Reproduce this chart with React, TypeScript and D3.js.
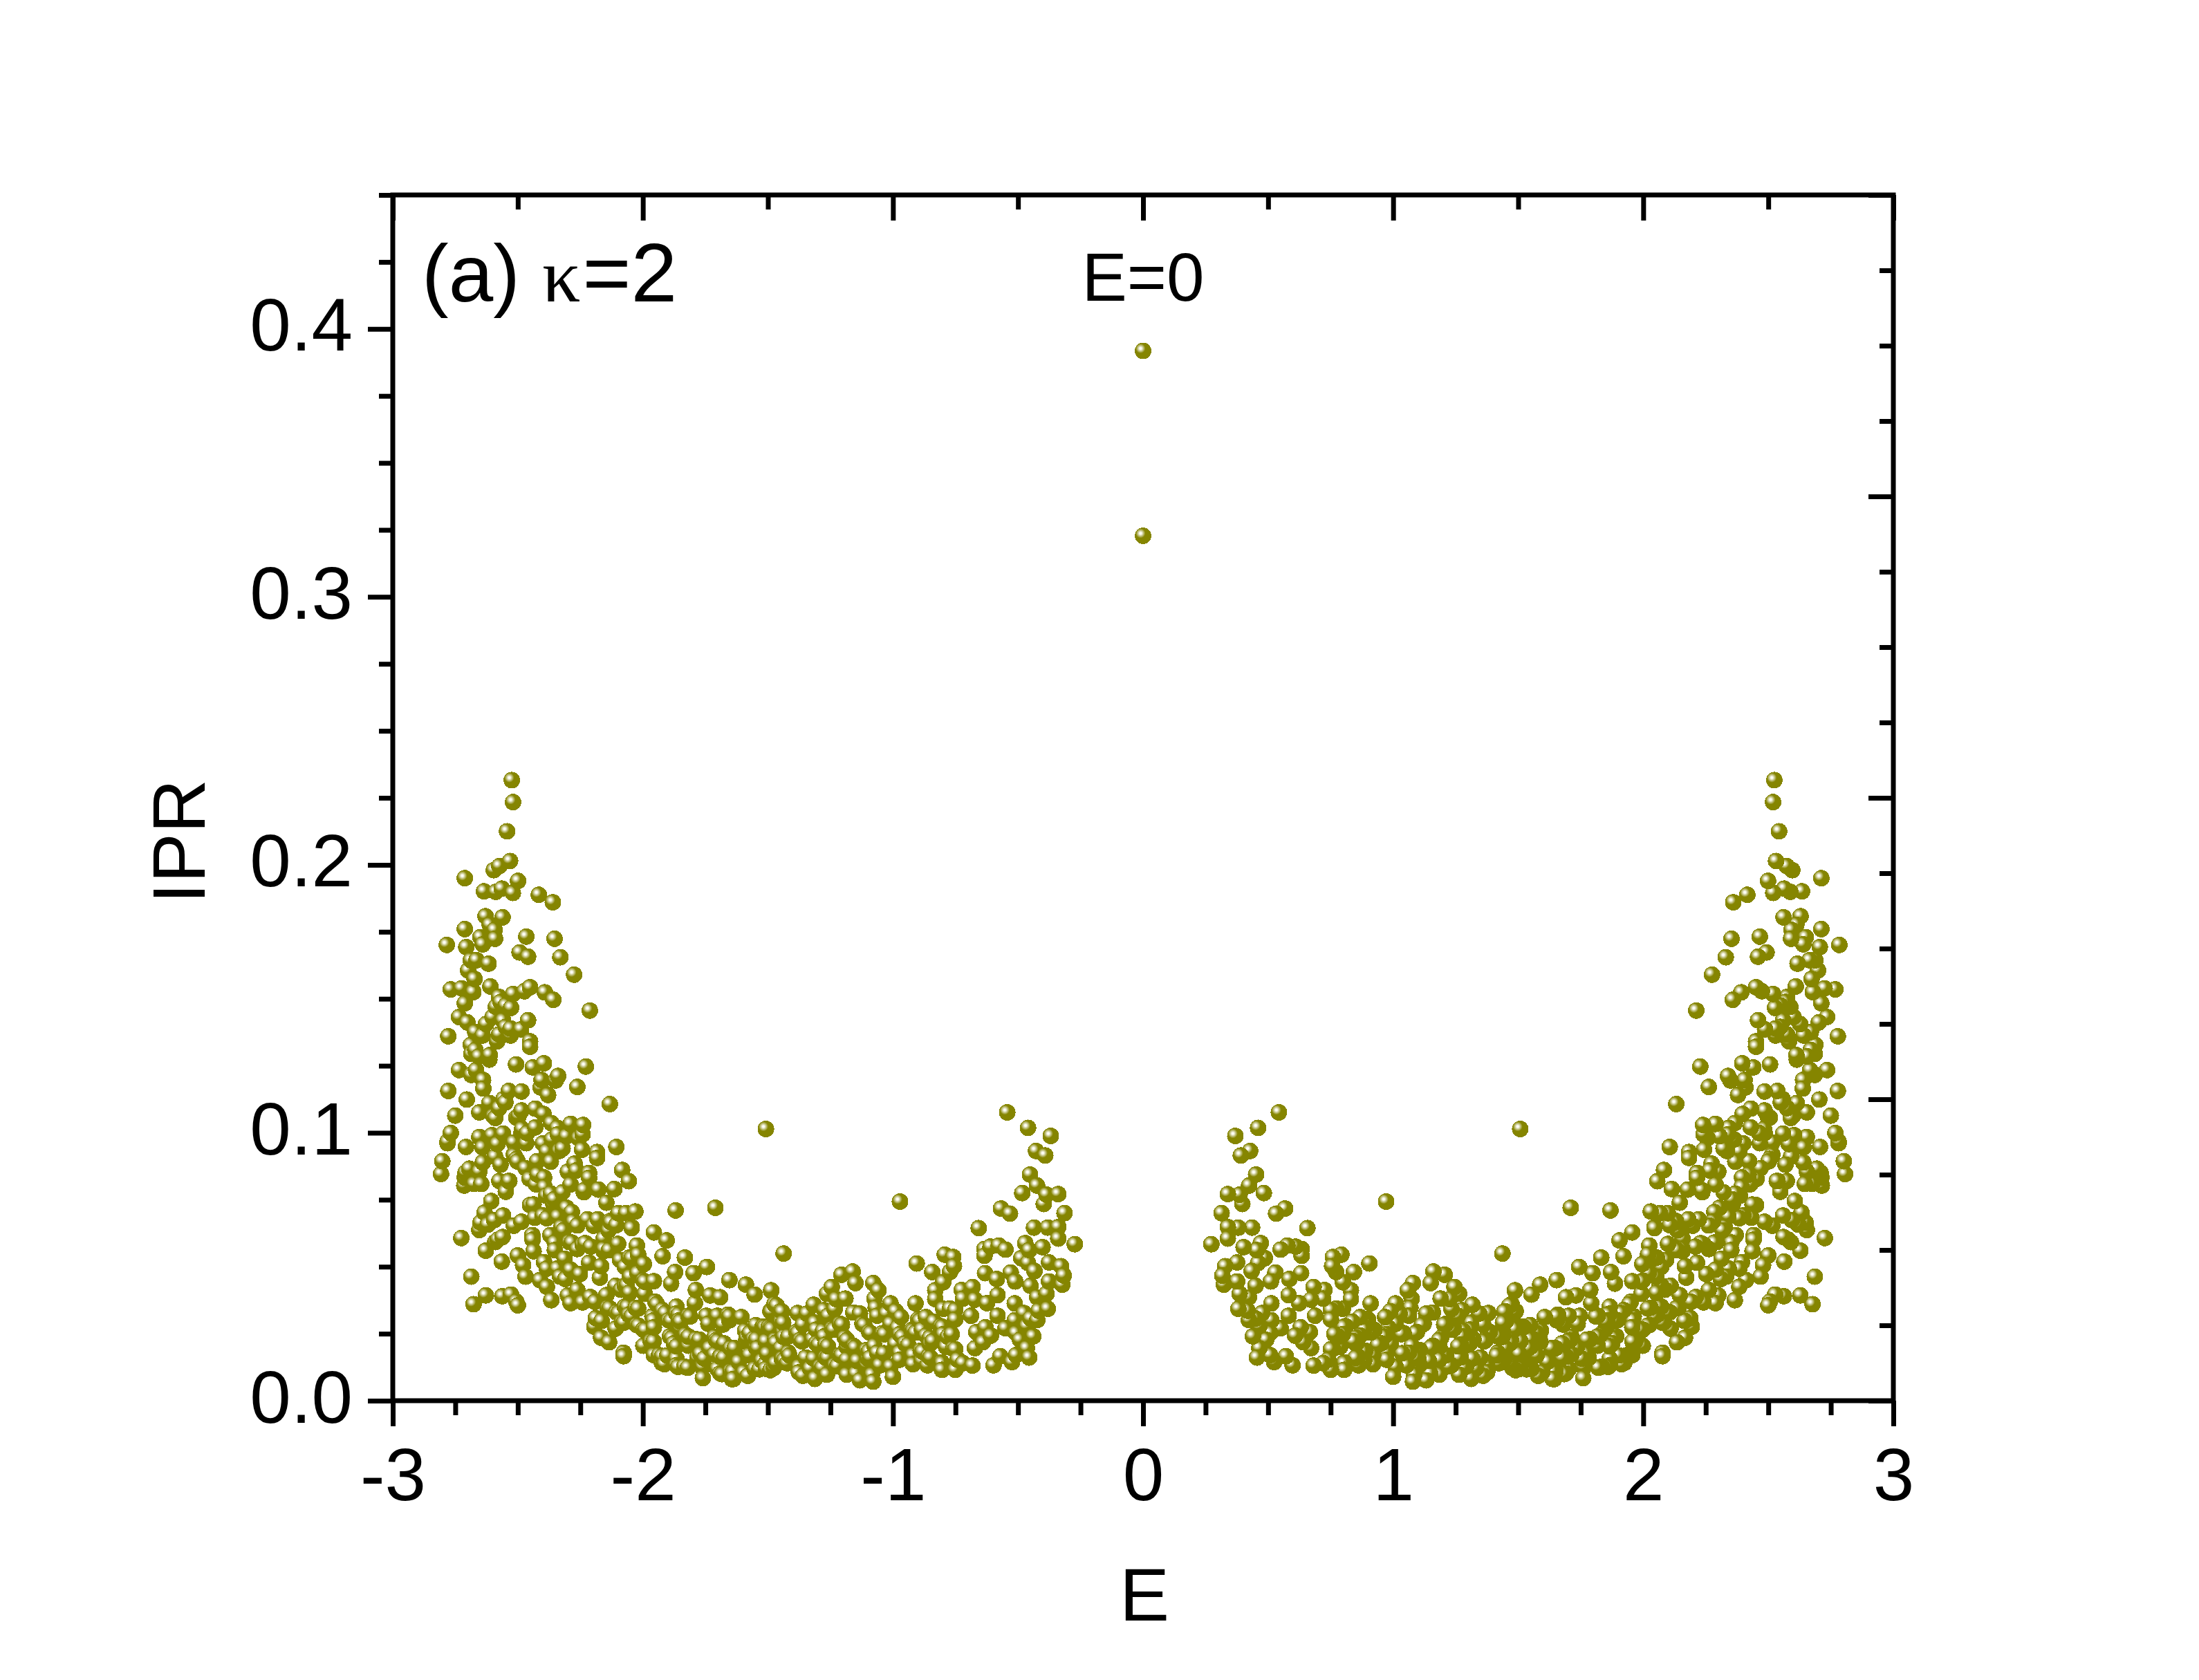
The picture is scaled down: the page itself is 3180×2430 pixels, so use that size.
import React, { useEffect, useRef } from "react";
import * as d3 from "d3";

// Chart size and plot frame, measured on the reference
const WIDTH = 3180;
const HEIGHT = 2430;
const margin = { top: 282, right: 442, bottom: 404, left: 568 };
const FONT = '"Liberation Sans", Arial, sans-serif';
const OLIVE = "#858500";

const xMajorTicks = [-3, -2, -1, 0, 1, 2, 3];
const xMinorTicks = [
  -2.75, -2.5, -2.25, -1.75, -1.5, -1.25, -0.75, -0.5, -0.25, 0.25, 0.5, 0.75,
  1.25, 1.5, 1.75, 2.25, 2.5, 2.75,
];
const topMinorTicks = [-2.5, -1.5, -0.5, 0.5, 1.5, 2.5];
const yMajorTicks = [0, 0.1, 0.2, 0.3, 0.4];
const yMinorTicks = [
  0.025, 0.05, 0.075, 0.125, 0.15, 0.175, 0.225, 0.25, 0.275, 0.325, 0.35,
  0.375, 0.425, 0.45,
];
// the right axis of the reference has its own unlabelled scale
const rightMajorTicks = [0, 1, 2, 3, 4];
const rightMinorTicks = [0.25, 0.5, 0.75, 1.25, 1.5, 1.75, 2.25, 2.5, 2.75, 3.25, 3.5, 3.75];

// [E, IPR]
const midGapStates: [number, number][] = [[0, 0.3918], [0, 0.3228]];

const leftBranch: [number, number][] = [
  [-2.524,.2316],[-2.519,.2234],[-2.543,.2125],[-2.531,.2014],[-2.574,.1995],[-2.596,.198],[-2.712,.195],[-2.499,.194],[-2.564,.1911],[-2.588,.1899],
  [-2.635,.1901],[-2.52,.1895],[-2.416,.1888],[-2.36,.186],[-2.629,.1808],[-2.561,.1804],[-2.612,.1776],[-2.593,.1757],[-2.712,.176],[-2.466,.1732],
  [-2.65,.173],[-2.591,.1724],[-2.353,.1724],[-2.784,.1701],[-2.64,.1703],[-2.706,.1693],[-2.493,.1673],[-2.459,.1657],[-2.33,.1655],[-2.688,.1644],
  [-2.665,.1644],[-2.617,.1631],[-2.699,.1606],[-2.275,.159],[-2.673,.1574],[-2.61,.1546],[-2.768,.1535],[-2.725,.1539],[-2.678,.1525],[-2.451,.1543],
  [-2.474,.1528],[-2.519,.1518],[-2.392,.1524],[-2.575,.1507],[-2.358,.1496],[-2.569,.1488],[-2.712,.1483],[-2.548,.1475],[-2.527,.1466],[-2.588,.147],
  [-2.212,.1456],[-2.735,.1432],[-2.601,.1432],[-2.459,.142],[-2.702,.1412],[-2.559,.1419],[-2.627,.1406],[-2.548,.1395],[-2.487,.1386],[-2.529,.1363],
  [-2.529,.1389],[-2.67,.1376],[-2.641,.1363],[-2.778,.136],[-2.575,.1367],[-2.583,.1341],[-2.451,.1341],[-2.451,.1321],[-2.688,.1328],[-2.686,.1294],
  [-2.67,.1309],[-2.656,.1285],[-2.612,.129],[-2.614,.1273],[-2.507,.1255],[-2.396,.1259],[-2.44,.1244],[-2.228,.1247],[-2.735,.1234],[-2.667,.1234],
  [-2.686,.1217],[-2.405,.1197],[-2.339,.1212],[-2.349,.1195],[-2.639,.1197],[-2.262,.1171],
  [-2.778,.1156],[-2.536,.1156],[-2.485,.1154],[-2.638,.1165],[-2.704,.1124],[-2.379,.1141],[-2.409,.1169],[-2.132,.1107],[-2.614,.1111],[-2.55,.1113],
  [-2.654,.1076],[-2.75,.1064],[-2.59,.1055],[-2.575,.1092],[-2.485,.1083],[-2.43,.109],[-2.397,.107],[-2.506,.1057],[-2.289,.1033],[-2.366,.1036],
  [-2.239,.1029],[-1.508,.1014],[-2.43,.102],[-2.342,.1018],[-2.768,.0999],[-2.654,.0984],[-2.603,.0991],[-2.559,.0997],[-2.241,.0994],[-2.34,.0994],
  [-2.305,.0987],[-2.485,.0999],[-2.463,.0999],[-2.516,.0964],[-2.466,.0961],[-2.781,.0961],[-2.707,.0947],[-2.641,.0945],[-2.582,.0958],[-2.4,.096],
  [-2.106,.0947],[-2.321,.0941],[-2.243,.0937],[-2.384,.093],[-2.183,.0928],[-2.183,.0906],[-2.802,.0894],[-2.591,.0911],[-2.516,.0919],[-2.506,.0902],
  [-2.423,.0894],[-2.368,.0892],[-2.273,.0885],[-2.64,.0889],[-2.569,.0881],[-2.694,.0866],[-2.469,.0868],[-2.654,.0855],[-2.083,.0861],[-2.266,.0859],
  [-2.3,.0855],[-2.215,.085],[-2.807,.0846],[-2.421,.0844],[-2.712,.0833],[-2.215,.0832],[-2.056,.0819],[-2.453,.0828],[-2.395,.0833],[-2.574,.082],
  [-2.537,.082],[-2.675,.0809],[-2.646,.0809],[-2.289,.0807],[-2.393,.0797],[-2.178,.0788],[-2.236,.0778],[-2.114,.079],[-2.548,.078],[-2.368,.0773],
  [-2.321,.0778],[-2.606,.0745],[-2.146,.0739],[-2.437,.0732],[-2.358,.0734],[-1.869,.071],[-1.71,.072],[-2.633,.0702],[-2.305,.072],[-2.03,.0706],
  [-2.284,.0704],[-2.098,.07],[-2.067,.07],[-2.559,.0691],[-2.4,.0691],[-2.34,.0687],[-2.432,.0683],[-2.384,.0681],[-2.222,.0677],[-2.18,.0677],
  [-2.485,.0668],[-2.278,.0668],[-2.516,.0653],[-2.262,.0654],[-2.13,.0671],[-2.106,.0655],[-2.045,.0648],[-2.326,.0648],[-2.654,.0637],[-2.62,.0657],
  [-1.956,.0628],[-1.905,.0598],[-2.442,.0618],[-2.157,.0605],[-2.37,.0618],[-2.561,.0611],[-2.726,.0607],[-2.352,.059],[-2.59,.0592],[-2.099,.0585],
  [-2.284,.059],[-2.241,.0583],[-2.208,.0575],[-2.262,.0566],[-2.024,.0579],[-2.135,.0562],[-2.352,.0562],[-2.437,.0558],[-2.628,.056],[-2.019,.0545],
  [-2.157,.0558],[-2.313,.053],[-2.5,.0542],[-2.091,.0525],[-1.921,.0539],[-1.832,.0534],[-2.564,.0519],[-2.215,.0515],[-2.479,.0506],[-2.395,.0517],
  [-2.167,.0502],[-2.072,.0499],[-1.996,.051],[-1.744,.0499],[-1.797,.0476],[-2.342,.0493],[-2.384,.0493],[-2.289,.0489],[-1.871,.048],[-2.686,.0463],
  [-2.469,.0463],[-2.252,.0472],[-2.021,.0476],[-2.172,.0459],[-2.331,.0463],[-2.31,.0454],[-2.411,.045],[-2.051,.0463],[-1.998,.0448],[-1.956,.0446],
  [-1.654,.045],[-1.588,.0433],[-2.109,.0429],[-2.384,.0425],[-1.887,.0437],[-2.262,.0413],[-2.072,.0429],[-1.788,.0413],[-2.146,.0394],[-2.628,.0393],
  [-2.562,.039],[-2.527,.0396],[-1.487,.041],[-1.553,.0396],[-1.731,.0393],[-1.691,.0386],[-2.3,.0393],[-1.993,.0399],[-2.053,.0403],[-2.21,.0387],
  [-2.366,.0375],[-1.95,.0369],[-2.506,.037],[-2.289,.0364],[-2.241,.0367],[-2.191,.0369],[-1.792,.0364],[-2.677,.036],[-1.474,.036],[-2.5,.0356],
  [-2.141,.0347],[-2.072,.0351],[-2.019,.0344],[-1.922,.0338],[-1.866,.0351],[-1.49,.0334],[-2.106,.033],[-1.866,.0325],[-2.056,.0321],[-2.188,.0308],
  [-1.818,.0317],[-1.746,.0317],[-1.702,.0317],[-1.659,.0321],[-1.606,.0312],[-1.448,.0334],[-1.958,.03],[-1.897,.03],[-1.855,.03],[-2.083,.0293],
  [-2.194,.0276],[-1.68,.0284],[-1.654,.03],[-1.448,.0295],[-2.024,.0282],[-1.956,.0274],[-1.548,.0282],[-1.522,.0275],[-1.49,.027],[-2.109,.0269],
  [-1.998,.0265],[-1.85,.027],[-1.591,.0261],[-1.738,.0287],[-1.829,.0246],[-1.439,.0252],[-1.585,.0235],[-2.167,.0235],[-1.892,.024],[-1.788,.023],
  [-1.558,.0231],[-1.707,.0226],[-1.876,.0214],[-2.135,.0218],[-1.968,.0222],[-1.649,.0196],[-1.548,.02],[-1.675,.0214],[-1.998,.0205],[-1.733,.0196],
  [-1.818,.0205],[-1.448,.0196],[-2.077,.0179],[-1.935,.017],[-1.956,.017],[-1.691,.0166],[-1.77,.0175],[-1.574,.017],[-2.077,.0166],[-1.866,.0157],
  [-1.754,.0157],[-1.617,.0145],[-1.442,.0157],[-1.924,.0141],[-1.511,.0136],[-1.834,.0127],[-1.866,.0132],[-1.469,.014],[-1.76,.0127],[-1.691,.0102],
  [-1.649,.011],[-1.76,.0084],[-1.643,.008],[-1.58,.0093],[-1.702,.0119],[-1.553,.0119],[-1.49,.0114],[-1.596,.0106],
  [-.543,.1076],[-.46,.1018],[-.369,.0988],[-.428,.0932],[-.391,.0915],[-.452,.0844],[-.424,.0803],[-.483,.0775],[-.339,.0771],[-.386,.0769],
  [-.397,.0734],[-.972,.0743],[-.568,.0717],[-.532,.0698],[-.314,.07],[-.657,.0644],[-.436,.0646],[-.381,.0646],[-.339,.0648],[-.339,.0605],
  [-.273,.0584],[-1.437,.0549],[-.471,.0588],[-.402,.0573],[-.634,.0566],[-.61,.0575],[-.577,.0579],[-.55,.0564],[-.634,.0541],[-.487,.0532],
  [-.455,.0562],[-.793,.0545],[-.759,.0536],[-.905,.0512],[-.756,.0502],[-.434,.0484],[-.376,.0516],[-.328,.0502],[-.46,.0514],[-.843,.048],
  [-.772,.048],[-1.161,.0482],[-1.206,.047],[-.317,.0467],[-.632,.0476],[-.529,.0478],[-.585,.0454],[-1.15,.0439],[-1.079,.0439],[-.323,.0433],
  [-.799,.0442],[-.511,.0445],[-.376,.0445],[-.45,.0429],[-1.487,.0412],[-1.245,.0424],[-1.058,.0412],[-.682,.0424],[-.725,.0413],[-.831,.0412],
  [-1.264,.0399],[-1.19,.0381],[-.386,.0399],[-.423,.0386],[-.582,.0394],[-.831,.0379],[-1.074,.0381],[-.72,.0381],[-.91,.0363],[-1.01,.0363],
  [-1.317,.0358],[-1.465,.0355],[-.672,.0377],[-.513,.0363],[-.381,.0343],[-1.227,.0379],[-.772,.0344],[-1.275,.0338],[-1.233,.0342],[-.799,.0343],
  [-1.487,.0332],[-1.444,.0332],[-1.381,.0327],[-1.344,.0325],[-1.069,.0347],[-.989,.0334],[-.624,.0364],[-.418,.0336],[-.476,.0327],[-1.159,.0329],
  [-.751,.0338],[-1.132,.0325],[-1.026,.0325],[-1.063,.0317],[-.968,.0312],[-.899,.0304],[-.868,.0312],[-.688,.0317],[-.582,.0317],[-1.259,.0317],
  [-.836,.0295],[-1.45,.0295],[-.513,.03],[-.423,.0301],[-.45,.0307],[-1.312,.0291],[-1.212,.0287],[-1.122,.0287],[-.465,.0278],[-1.01,.0287],
  [-.751,.0303],[-.809,.0278],[-1.36,.0284],[-.63,.0274],[-.55,.027],[-.439,.024],[-1.518,.0277],[-1.497,.0274],[-1.386,.0257],[-1.307,.0265],
  [-1.243,.0269],[-.92,.0261],[-.884,.0265],[-.667,.0256],[-1.28,.026],[-1.095,.0256],[-1.042,.0252],[-1.439,.0256],[-.799,.0248],[-.765,.0248],
  [-.973,.0248],[-.608,.0243],[-.868,.0243],[-.508,.0252],[-1.275,.024],[-1.418,.024],[-1.192,.0235],[-1.37,.0227],[-.64,.0218],[-.852,.0235],
  [-1.508,.0222],[-1.471,.0227],[-.492,.0227],[-.952,.0214],[-1.27,.0209],[-1.307,.0214],[-1.159,.0205],[-1.074,.0205],[-.672,.0196],[-1.185,.0201],
  [-1.106,.0189],[-.788,.0201],[-.751,.0192],[-.465,.0196],[-.889,.0187],[-.841,.0222],[-1.418,.0179],[-1.503,.0175],[-.973,.0179],[-1.212,.017],
  [-1.349,.0161],[-1.27,.0161],[-.857,.0166],[-1.063,.0179],[-.92,.017],[-1.444,.0155],[-.508,.017],[-.571,.0166],[-1.1,.0157],[-1.185,.0153],
  [-.741,.0153],[-.973,.0153],[-.455,.0161],[-1.143,.0149],[-1.317,.0157],[-.884,.0149],[-.524,.0144],[-.72,.014],[-1.233,.0132],[-1.423,.014],
  [-.804,.014],[-.598,.0132],[-.682,.0131],[-1.291,.0127],[-1.376,.0127],[-1.508,.0119],[-1.476,.0123],[-.804,.0115],[-.751,.0115],[-1.264,.0097],
  [-1.185,.0097],[-1.36,.0093],[-1.312,.0081],[-1.132,.0076],[-1.079,.0071],[-1,.0089],[-1.376,.0106],[-1.148,.0101],[-1.084,.0097],[-1.053,.0132],
  [-1.01,.0127],[-.862,.0132],[-.92,.0136],
];

// Half-hidden discs in the crowded parts of the left branch
const leftCrowded: [number, number][] = [
  [-2.054,.0534],[-2.064,.0431],[-2.087,.0414],[-1.962,.0315],[-2.165,.0298],[-2.045,.0315],[-1.99,.0264],[-1.884,.0233],[-1.865,.0203],[-1.902,.0169],
  [-1.782,.016],[-1.713,.0173],[-1.69,.0164],[-1.764,.0126],[-1.713,.0238],[-1.653,.0315],[-1.589,.022],[-1.534,.0117],[-1.524,.0149],[-1.469,.0216],
  [-1.437,.0238],[-1.414,.0169],[-1.377,.012],[-1.331,.012],[-1.321,.0229],[-1.206,.0169],[-1.156,.0203],[-1.105,.0134],[-1.091,.016],[-1.036,.0177],
  [-.99,.0212],[-.939,.0208],[-.981,.0272],[-.925,.0264],[-.893,.0298],[-.805,.0143],[-.852,.0212],[-.759,.0194],
  [-2.133,.0345],[-2.097,.0327],[-2.062,.035],[-2.076,.0291],[-2.017,.028],[-2.029,.0347],[-1.993,.0444],[-1.944,.036],[-1.91,.0327],[-1.857,.0321],
  [-1.85,.0295],[-1.887,.0298],[-1.811,.0314],[-1.957,.0221],[-1.923,.0166],[-1.914,.0136],[-1.859,.0126],[-1.82,.0123],[-1.817,.0239],[-1.774,.0228],
  [-1.7,.0222],[-1.633,.0196],[-1.676,.016],[-1.684,.0099],[-1.638,.0081],[-1.64,.0109],[-1.541,.0196],[-1.546,.0229],[-1.573,.0252],[-1.513,.0274],
  [-1.486,.0267],[-1.439,.0291],[-1.435,.0151],[-1.363,.0221],[-1.38,.0252],[-1.297,.0209],[-1.26,.0203],[-1.311,.0083],[-1.262,.016],[-1.283,.0123],
  [-1.223,.0129],[-1.184,.0226],[-1.151,.0198],[-1.204,.0284],[-1.237,.0265],[-1.115,.0282],[-1.089,.0252],[-1.034,.0248],[-.963,.0239],[-1.096,.0183],
  [-.882,.0183],[-.85,.016],[-.91,.0254],[-.802,.0275],[-.781,.0239],
  [-2.598,.1062],[-2.483,.1014],[-2.497,.1062],[-2.557,.1126],[-2.686,.1216],[-2.781,.0967],[-2.709,.0851],[-2.714,.0803],[-2.534,.082],[-2.501,.0893],
  [-2.515,.0915],[-2.363,.0975],[-2.257,.098],[-2.234,.0786],[-2.335,.0932],[-2.386,.0765],[-2.428,.0808],[-2.354,.0752],[-2.451,.073],[-2.128,.0666],
  [-2.045,.0644],[-2.594,.0674],[-2.649,.0665],[-2.58,.0601],[-2.294,.0592],[-2.23,.0588],[-2.156,.0566],[-2.317,.0636],[-2.197,.0653],[-2.137,.0636],
  [-2.441,.0601],[-2.045,.0532],
];

const rightBranch: [number, number][] = [
  [2.524,.2316],[2.519,.2234],[2.543,.2125],[2.531,.2014],[2.574,.1995],[2.596,.198],[2.712,.195],[2.499,.194],[2.564,.1911],[2.588,.1899],
  [2.635,.1901],[2.52,.1895],[2.416,.1888],[2.36,.186],[2.629,.1808],[2.561,.1804],[2.612,.1776],[2.593,.1757],[2.712,.176],[2.466,.1732],
  [2.65,.173],[2.591,.1724],[2.353,.1724],[2.784,.1701],[2.64,.1703],[2.706,.1693],[2.493,.1673],[2.459,.1657],[2.33,.1655],[2.688,.1644],
  [2.665,.1644],[2.617,.1631],[2.699,.1606],[2.275,.159],[2.673,.1574],[2.61,.1546],[2.768,.1535],[2.725,.1539],[2.678,.1525],[2.451,.1543],
  [2.474,.1528],[2.519,.1518],[2.392,.1524],[2.575,.1507],[2.358,.1496],[2.569,.1488],[2.712,.1483],[2.548,.1475],[2.527,.1466],[2.588,.147],
  [2.212,.1456],[2.735,.1432],[2.601,.1432],[2.459,.142],[2.702,.1412],[2.559,.1419],[2.627,.1406],[2.548,.1395],[2.487,.1386],[2.529,.1363],
  [2.529,.1389],[2.67,.1376],[2.641,.1363],[2.778,.136],[2.575,.1367],[2.583,.1341],[2.451,.1341],[2.451,.1321],[2.688,.1328],[2.686,.1294],
  [2.67,.1309],[2.656,.1285],[2.612,.129],[2.614,.1273],[2.507,.1255],[2.396,.1259],[2.44,.1244],[2.228,.1247],[2.735,.1234],[2.667,.1234],
  [2.686,.1217],[2.405,.1197],[2.339,.1212],[2.349,.1195],[2.639,.1197],[2.262,.1171],
  [2.778,.1156],[2.536,.1156],[2.485,.1154],[2.638,.1165],[2.704,.1124],[2.379,.1141],[2.409,.1169],[2.132,.1107],[2.614,.1111],[2.55,.1113],
  [2.654,.1076],[2.75,.1064],[2.59,.1055],[2.575,.1092],[2.485,.1083],[2.43,.109],[2.397,.107],[2.506,.1057],[2.289,.1033],[2.366,.1036],
  [2.239,.1029],[1.508,.1014],[2.43,.102],[2.342,.1018],[2.768,.0999],[2.654,.0984],[2.603,.0991],[2.559,.0997],[2.241,.0994],[2.34,.0994],
  [2.305,.0987],[2.485,.0999],[2.463,.0999],[2.516,.0964],[2.466,.0961],[2.781,.0961],[2.707,.0947],[2.641,.0945],[2.582,.0958],[2.4,.096],
  [2.106,.0947],[2.321,.0941],[2.243,.0937],[2.384,.093],[2.183,.0928],[2.183,.0906],[2.802,.0894],[2.591,.0911],[2.516,.0919],[2.506,.0902],
  [2.423,.0894],[2.368,.0892],[2.273,.0885],[2.64,.0889],[2.569,.0881],[2.694,.0866],[2.469,.0868],[2.654,.0855],[2.083,.0861],[2.266,.0859],
  [2.3,.0855],[2.215,.085],[2.807,.0846],[2.421,.0844],[2.712,.0833],[2.215,.0832],[2.056,.0819],[2.453,.0828],[2.395,.0833],[2.574,.082],
  [2.537,.082],[2.675,.0809],[2.646,.0809],[2.289,.0807],[2.393,.0797],[2.178,.0788],[2.236,.0778],[2.114,.079],[2.548,.078],[2.368,.0773],
  [2.321,.0778],[2.606,.0745],[2.146,.0739],[2.437,.0732],[2.358,.0734],[1.869,.071],[1.71,.072],[2.633,.0702],[2.305,.072],[2.03,.0706],
  [2.284,.0704],[2.098,.07],[2.067,.07],[2.559,.0691],[2.4,.0691],[2.34,.0687],[2.432,.0683],[2.384,.0681],[2.222,.0677],[2.18,.0677],
  [2.485,.0668],[2.278,.0668],[2.516,.0653],[2.262,.0654],[2.13,.0671],[2.106,.0655],[2.045,.0648],[2.326,.0648],[2.654,.0637],[2.62,.0657],
  [1.956,.0628],[1.905,.0598],[2.442,.0618],[2.157,.0605],[2.37,.0618],[2.561,.0611],[2.726,.0607],[2.352,.059],[2.59,.0592],[2.099,.0585],
  [2.284,.059],[2.241,.0583],[2.208,.0575],[2.262,.0566],[2.024,.0579],[2.135,.0562],[2.352,.0562],[2.437,.0558],[2.628,.056],[2.019,.0545],
  [2.157,.0558],[2.313,.053],[2.5,.0542],[2.091,.0525],[1.921,.0539],[1.832,.0534],[2.564,.0519],[2.215,.0515],[2.479,.0506],[2.395,.0517],
  [2.167,.0502],[2.072,.0499],[1.996,.051],[1.744,.0499],[1.797,.0476],[2.342,.0493],[2.384,.0493],[2.289,.0489],[1.871,.048],[2.686,.0463],
  [2.469,.0463],[2.252,.0472],[2.021,.0476],[2.172,.0459],[2.331,.0463],[2.31,.0454],[2.411,.045],[2.051,.0463],[1.998,.0448],[1.956,.0446],
  [1.654,.045],[1.588,.0433],[2.109,.0429],[2.384,.0425],[1.887,.0437],[2.262,.0413],[2.072,.0429],[1.788,.0413],[2.146,.0394],[2.628,.0393],
  [2.562,.039],[2.527,.0396],[1.487,.041],[1.553,.0396],[1.731,.0393],[1.691,.0386],[2.3,.0393],[1.993,.0399],[2.053,.0403],[2.21,.0387],
  [2.366,.0375],[1.95,.0369],[2.506,.037],[2.289,.0364],[2.241,.0367],[2.191,.0369],[1.792,.0364],[2.677,.036],[1.474,.036],[2.5,.0356],
  [2.141,.0347],[2.072,.0351],[2.019,.0344],[1.922,.0338],[1.866,.0351],[1.49,.0334],[2.106,.033],[1.866,.0325],[2.056,.0321],[2.188,.0308],
  [1.818,.0317],[1.746,.0317],[1.702,.0317],[1.659,.0321],[1.606,.0312],[1.448,.0334],[1.958,.03],[1.897,.03],[1.855,.03],[2.083,.0293],
  [2.194,.0276],[1.68,.0284],[1.654,.03],[1.448,.0295],[2.024,.0282],[1.956,.0274],[1.548,.0282],[1.522,.0275],[1.49,.027],[2.109,.0269],
  [1.998,.0265],[1.85,.027],[1.591,.0261],[1.738,.0287],[1.829,.0246],[1.439,.0252],[1.585,.0235],[2.167,.0235],[1.892,.024],[1.788,.023],
  [1.558,.0231],[1.707,.0226],[1.876,.0214],[2.135,.0218],[1.968,.0222],[1.649,.0196],[1.548,.02],[1.675,.0214],[1.998,.0205],[1.733,.0196],
  [1.818,.0205],[1.448,.0196],[2.077,.0179],[1.935,.017],[1.956,.017],[1.691,.0166],[1.77,.0175],[1.574,.017],[2.077,.0166],[1.866,.0157],
  [1.754,.0157],[1.617,.0145],[1.442,.0157],[1.924,.0141],[1.511,.0136],[1.834,.0127],[1.866,.0132],[1.469,.014],[1.76,.0127],[1.691,.0102],
  [1.649,.011],[1.76,.0084],[1.643,.008],[1.58,.0093],[1.702,.0119],[1.553,.0119],[1.49,.0114],[1.596,.0106],
  [.543,.1076],[.46,.1018],[.369,.0988],[.428,.0932],[.391,.0915],[.452,.0844],[.424,.0803],[.483,.0775],[.339,.0771],[.386,.0769],
  [.397,.0734],[.972,.0743],[.568,.0717],[.532,.0698],[.314,.07],[.657,.0644],[.436,.0646],[.381,.0646],[.339,.0648],[.339,.0605],
  [.273,.0584],[1.437,.0549],[.471,.0588],[.402,.0573],[.634,.0566],[.61,.0575],[.577,.0579],[.55,.0564],[.634,.0541],[.487,.0532],
  [.455,.0562],[.793,.0545],[.759,.0536],[.905,.0512],[.756,.0502],[.434,.0484],[.376,.0516],[.328,.0502],[.46,.0514],[.843,.048],
  [.772,.048],[1.161,.0482],[1.206,.047],[.317,.0467],[.632,.0476],[.529,.0478],[.585,.0454],[1.15,.0439],[1.079,.0439],[.323,.0433],
  [.799,.0442],[.511,.0445],[.376,.0445],[.45,.0429],[1.487,.0412],[1.245,.0424],[1.058,.0412],[.682,.0424],[.725,.0413],[.831,.0412],
  [1.264,.0399],[1.19,.0381],[.386,.0399],[.423,.0386],[.582,.0394],[.831,.0379],[1.074,.0381],[.72,.0381],[.91,.0363],[1.01,.0363],
  [1.317,.0358],[1.465,.0355],[.672,.0377],[.513,.0363],[.381,.0343],[1.227,.0379],[.772,.0344],[1.275,.0338],[1.233,.0342],[.799,.0343],
  [1.487,.0332],[1.444,.0332],[1.381,.0327],[1.344,.0325],[1.069,.0347],[.989,.0334],[.624,.0364],[.418,.0336],[.476,.0327],[1.159,.0329],
  [.751,.0338],[1.132,.0325],[1.026,.0325],[1.063,.0317],[.968,.0312],[.899,.0304],[.868,.0312],[.688,.0317],[.582,.0317],[1.259,.0317],
  [.836,.0295],[1.45,.0295],[.513,.03],[.423,.0301],[.45,.0307],[1.312,.0291],[1.212,.0287],[1.122,.0287],[.465,.0278],[1.01,.0287],
  [.751,.0303],[.809,.0278],[1.36,.0284],[.63,.0274],[.55,.027],[.439,.024],[1.518,.0277],[1.497,.0274],[1.386,.0257],[1.307,.0265],
  [1.243,.0269],[.92,.0261],[.884,.0265],[.667,.0256],[1.28,.026],[1.095,.0256],[1.042,.0252],[1.439,.0256],[.799,.0248],[.765,.0248],
  [.973,.0248],[.608,.0243],[.868,.0243],[.508,.0252],[1.275,.024],[1.418,.024],[1.192,.0235],[1.37,.0227],[.64,.0218],[.852,.0235],
  [1.508,.0222],[1.471,.0227],[.492,.0227],[.952,.0214],[1.27,.0209],[1.307,.0214],[1.159,.0205],[1.074,.0205],[.672,.0196],[1.185,.0201],
  [1.106,.0189],[.788,.0201],[.751,.0192],[.465,.0196],[.889,.0187],[.841,.0222],[1.418,.0179],[1.503,.0175],[.973,.0179],[1.212,.017],
  [1.349,.0161],[1.27,.0161],[.857,.0166],[1.063,.0179],[.92,.017],[1.444,.0155],[.508,.017],[.571,.0166],[1.1,.0157],[1.185,.0153],
  [.741,.0153],[.973,.0153],[.455,.0161],[1.143,.0149],[1.317,.0157],[.884,.0149],[.524,.0144],[.72,.014],[1.233,.0132],[1.423,.014],
  [.804,.014],[.598,.0132],[.682,.0131],[1.291,.0127],[1.376,.0127],[1.508,.0119],[1.476,.0123],[.804,.0115],[.751,.0115],[1.264,.0097],
  [1.185,.0097],[1.36,.0093],[1.312,.0081],[1.132,.0076],[1.079,.0071],[1,.0089],[1.376,.0106],[1.148,.0101],[1.084,.0097],[1.053,.0132],
  [1.01,.0127],[.862,.0132],[.92,.0136],
];

// Half-hidden discs in the crowded parts of the right branch
const rightCrowded: [number, number][] = [
  [2.054,.0534],[2.064,.0431],[2.087,.0414],[1.962,.0315],[2.165,.0298],[2.045,.0315],[1.99,.0264],[1.884,.0233],[1.865,.0203],[1.902,.0169],
  [1.782,.016],[1.713,.0173],[1.69,.0164],[1.764,.0126],[1.713,.0238],[1.653,.0315],[1.589,.022],[1.534,.0117],[1.524,.0149],[1.469,.0216],
  [1.437,.0238],[1.414,.0169],[1.377,.012],[1.331,.012],[1.321,.0229],[1.206,.0169],[1.156,.0203],[1.105,.0134],[1.091,.016],[1.036,.0177],
  [.99,.0212],[.939,.0208],[.981,.0272],[.925,.0264],[.893,.0298],[.805,.0143],[.852,.0212],[.759,.0194],
  [2.133,.0345],[2.097,.0327],[2.062,.035],[2.076,.0291],[2.017,.028],[2.029,.0347],[1.993,.0444],[1.944,.036],[1.91,.0327],[1.857,.0321],
  [1.85,.0295],[1.887,.0298],[1.811,.0314],[1.957,.0221],[1.923,.0166],[1.914,.0136],[1.859,.0126],[1.82,.0123],[1.817,.0239],[1.774,.0228],
  [1.7,.0222],[1.633,.0196],[1.676,.016],[1.684,.0099],[1.638,.0081],[1.64,.0109],[1.541,.0196],[1.546,.0229],[1.573,.0252],[1.513,.0274],
  [1.486,.0267],[1.439,.0291],[1.435,.0151],[1.363,.0221],[1.38,.0252],[1.297,.0209],[1.26,.0203],[1.311,.0083],[1.262,.016],[1.283,.0123],
  [1.223,.0129],[1.184,.0226],[1.151,.0198],[1.204,.0284],[1.237,.0265],[1.115,.0282],[1.089,.0252],[1.034,.0248],[.963,.0239],[1.096,.0183],
  [.882,.0183],[.85,.016],[.91,.0254],[.802,.0275],[.781,.0239],
  [2.598,.1062],[2.483,.1014],[2.497,.1062],[2.557,.1126],[2.686,.1216],[2.781,.0967],[2.709,.0851],[2.714,.0803],[2.534,.082],[2.501,.0893],
  [2.515,.0915],[2.363,.0975],[2.257,.098],[2.234,.0786],[2.335,.0932],[2.386,.0765],[2.428,.0808],[2.354,.0752],[2.451,.073],[2.128,.0666],
  [2.045,.0644],[2.594,.0674],[2.649,.0665],[2.58,.0601],[2.294,.0592],[2.23,.0588],[2.156,.0566],[2.317,.0636],[2.197,.0653],[2.137,.0636],
  [2.441,.0601],[2.045,.0532],
];

const App = () => {
  const svgRef = useRef<SVGSVGElement>(null);

  useEffect(() => {
    if (svgRef.current) drawChart(svgRef.current);
  }, []);

  return (
    <svg
      ref={svgRef}
      width={WIDTH}
      height={HEIGHT}
      style={{ position: "absolute", left: 0, top: 0, display: "block", background: "#fff" }}
    />
  );
};

function styleAxis(g: any) {
  g.select(".domain").remove();
  g.selectAll("line").attr("stroke", "#000").attr("stroke-width", 7);
  g.selectAll("text")
    .attr("fill", "#000")
    .style("font-family", FONT)
    .style("font-size", "107px");
}

function drawChart(node: SVGSVGElement) {
  const svg = d3.select(node);
  svg.selectAll("*").remove();

  const width = WIDTH - margin.left - margin.right;
  const height = HEIGHT - margin.top - margin.bottom;

  const x = d3.scaleLinear().domain([-3, 3]).range([0, width]);
  const y = d3.scaleLinear().domain([0, 0.45]).range([height, 0]);
  const yRight = d3.scaleLinear().domain([0, 4]).range([height, 0]);

  // Ball marker: olive disc with a small hot spot up and to the left
  const gradient = svg
    .append("defs")
    .append("radialGradient")
    .attr("id", "ball")
    .attr("cx", 0.35)
    .attr("cy", 0.35)
    .attr("r", 0.29);
  gradient.append("stop").attr("offset", "0%").attr("stop-color", "#ffffff");
  gradient.append("stop").attr("offset", "22%").attr("stop-color", "#fbfbf0");
  gradient.append("stop").attr("offset", "50%").attr("stop-color", "#cfcf9c");
  gradient.append("stop").attr("offset", "100%").attr("stop-color", OLIVE);

  const plot = svg
    .append("g")
    .attr("transform", `translate(${margin.left},${margin.top})`);

  // Points: outermost states first on each branch, which is what leaves the
  // highlights showing on the left and covered on the right
  const points = [
    ...d3.sort([...leftBranch, ...leftCrowded], (a, b) => d3.ascending(a[0], b[0])),
    ...d3.sort([...rightBranch, ...rightCrowded], (a, b) => d3.descending(a[0], b[0])),
    ...midGapStates,
  ];
  plot
    .append("g")
    .selectAll("circle")
    .data(points)
    .enter()
    .append("circle")
    .attr("cx", (d) => x(d[0]))
    .attr("cy", (d) => y(d[1]))
    .attr("r", 12)
    .attr("fill", "url(#ball)")
    .attr("shape-rendering", "crispEdges");

  // Bottom axis
  plot
    .append("g")
    .attr("transform", `translate(0,${height})`)
    .call(d3.axisBottom(x).tickValues(xMinorTicks).tickSize(21).tickFormat(() => ""))
    .call(styleAxis);
  plot
    .append("g")
    .attr("transform", `translate(0,${height})`)
    .call(d3.axisBottom(x).tickValues(xMajorTicks).tickSize(37).tickFormat(d3.format("d")))
    .call(styleAxis)
    .selectAll("text")
    .text((d: any) => String(d))
    .attr("y", 144)
    .attr("dy", 0);

  // Left axis
  plot
    .append("g")
    .call(d3.axisLeft(y).tickValues(yMinorTicks).tickSize(20).tickFormat(() => ""))
    .call(styleAxis);
  plot
    .append("g")
    .call(d3.axisLeft(y).tickValues(yMajorTicks).tickSize(36).tickFormat(d3.format(".1f")))
    .call(styleAxis)
    .selectAll("text")
    .attr("x", -58)
    .attr("dy", 31);

  // Top axis, ticks pointing in
  plot
    .append("g")
    .call(d3.axisBottom(x).tickValues(topMinorTicks).tickSize(21).tickFormat(() => ""))
    .call(styleAxis);
  plot
    .append("g")
    .call(d3.axisBottom(x).tickValues(xMajorTicks).tickSize(37).tickFormat(() => ""))
    .call(styleAxis);

  // Right axis, ticks pointing in
  plot
    .append("g")
    .attr("transform", `translate(${width},0)`)
    .call(d3.axisLeft(yRight).tickValues(rightMinorTicks).tickSize(20).tickFormat(() => ""))
    .call(styleAxis);
  plot
    .append("g")
    .attr("transform", `translate(${width},0)`)
    .call(d3.axisLeft(yRight).tickValues(rightMajorTicks).tickSize(36).tickFormat(() => ""))
    .call(styleAxis);

  // Frame
  plot
    .append("rect")
    .attr("width", width)
    .attr("height", height)
    .attr("fill", "none")
    .attr("stroke", "#000")
    .attr("stroke-width", 7);

  // Axis titles
  svg
    .append("text")
    .attr("x", 1655)
    .attr("y", 2344)
    .attr("text-anchor", "middle")
    .style("font-family", FONT)
    .style("font-size", "108px")
    .text("E");

  svg
    .append("text")
    .attr("transform", "translate(296,1217) rotate(-90)")
    .attr("text-anchor", "middle")
    .style("font-family", FONT)
    .style("font-size", "108px")
    .text("IPR");

  // Annotations
  const label = svg
    .append("text")
    .attr("x", 610)
    .attr("y", 436)
    .style("font-family", FONT)
    .style("font-size", "116px");
  label.append("tspan").text("(a) ");
  label
    .append("tspan")
    .style("font-family", '"Liberation Serif", serif')
    .style("font-size", "110px")
    .text("κ");
  label.append("tspan").attr("dx", 3).style("font-size", "120px").text("=2");

  svg
    .append("text")
    .attr("x", x(0) + margin.left)
    .attr("y", 435)
    .attr("text-anchor", "middle")
    .style("font-family", FONT)
    .style("font-size", "98px")
    .text("E=0");
}

export default App;
